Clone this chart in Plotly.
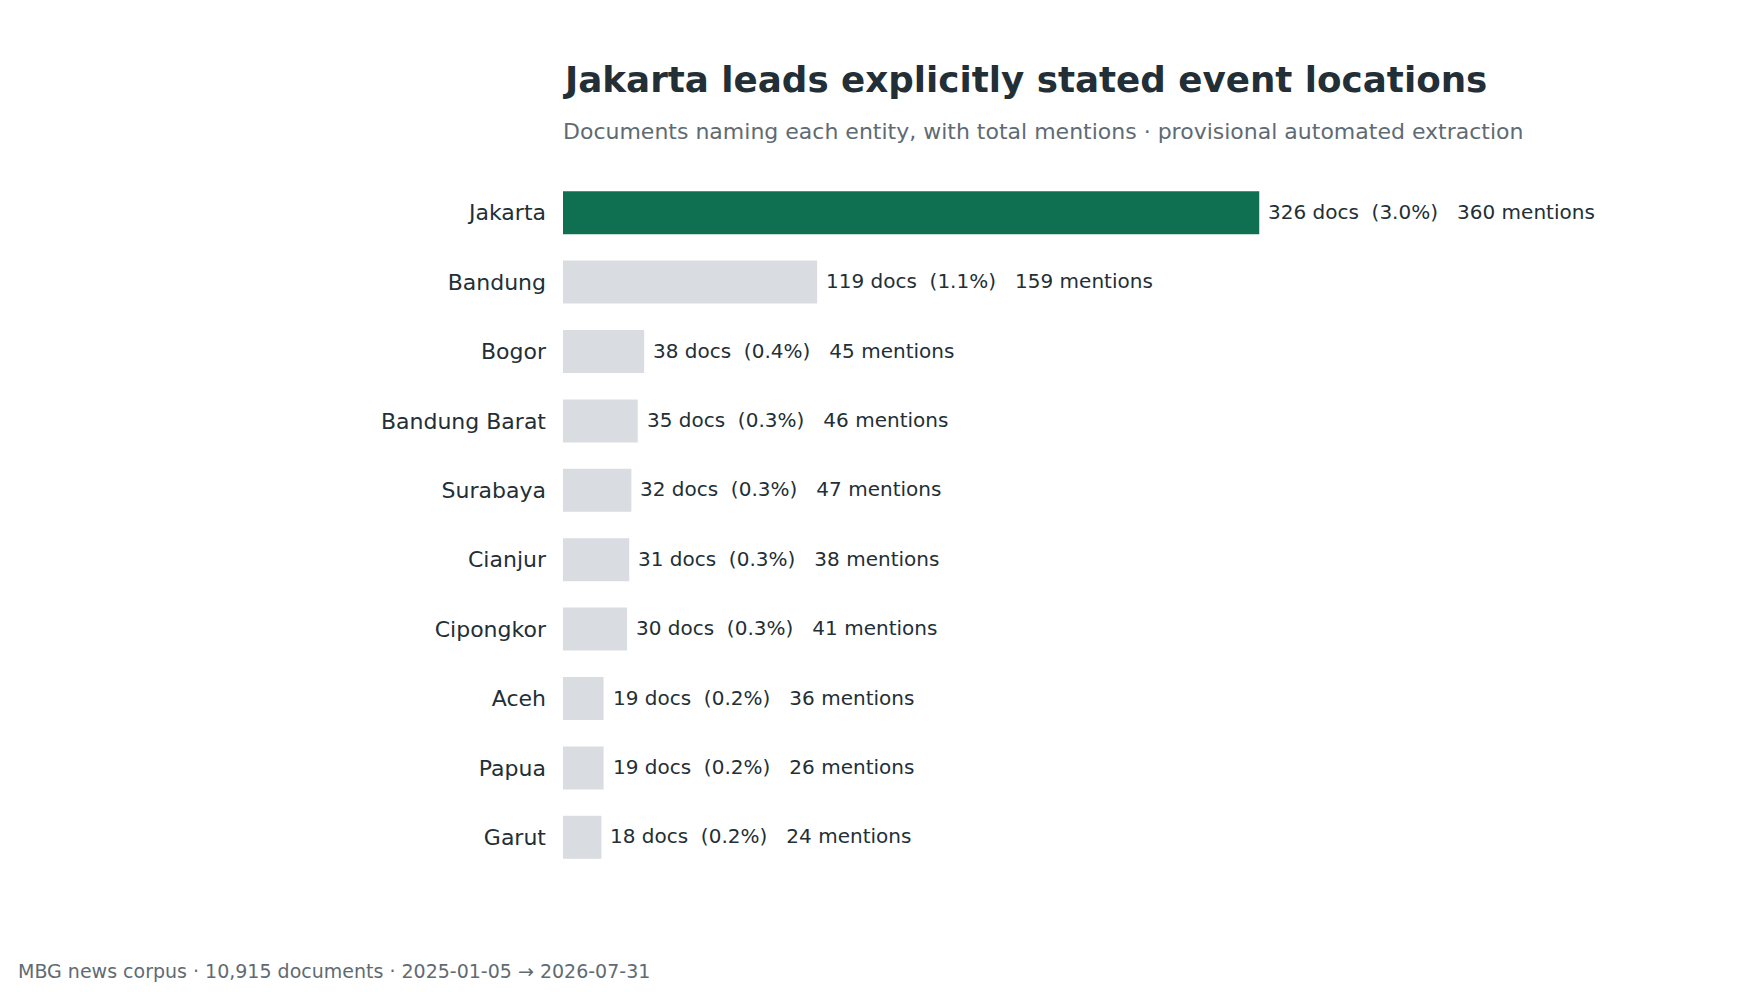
import plotly.graph_objects as go

places = ["Jakarta", "Bandung", "Bogor", "Bandung Barat", "Surabaya", "Cianjur",
          "Cipongkor", "Aceh", "Papua", "Garut"]
docs = [326, 119, 38, 35, 32, 31, 30, 19, 19, 18]
pcts = ["3.0%", "1.1%", "0.4%", "0.3%", "0.3%", "0.3%", "0.3%", "0.2%", "0.2%", "0.2%"]
mentions = [360, 159, 45, 46, 47, 38, 41, 36, 26, 24]

TITLE = "Jakarta leads explicitly stated event locations"
SUBTITLE = "Documents naming each entity, with total mentions · provisional automated extraction"
FOOTER = "MBG news corpus · 10,915 documents · 2025-01-05 → 2026-07-31"

GREEN = "#0e7050"
GREY = "#d9dde1"
DARK = "#232f36"
MUTED = "#5f6b73"
FONT = "DejaVu Sans"

W, H = 1760, 992
ML, MR, MT, MB = 555, 91, 170, 128
plot_w = W - ML - MR
plot_h = H - MT - MB

def xpaper(px):
    return (px - ML) / plot_w

def ypaper(px):
    return (H - MB - px) / plot_h

colors = [GREEN if i == 0 else GREY for i in range(len(places))]
nb = "\u00a0"
labels = [f"{d}{nb}docs{nb}{nb}({p}){nb}{nb}{nb}{m}{nb}mentions" for d, p, m in zip(docs, pcts, mentions)]

fig = go.Figure()
fig.add_trace(go.Bar(
    x=docs, y=places, orientation="h",
    marker=dict(color=colors, line=dict(width=0)),
    width=0.62,
    hoverinfo="skip",
))

for d, p, lab in zip(docs, places, labels):
    fig.add_annotation(x=d, y=p, xref="x", yref="y", text=lab, showarrow=False,
                       xanchor="left", yanchor="middle", xshift=7, yshift=1,
                       font=dict(family=FONT, size=20, color=DARK))

fig.add_annotation(x=0, y=ypaper(72), xref="paper", yref="paper", text=f"<b>{TITLE}</b>",
                   showarrow=False, xanchor="left", yanchor="middle", xshift=-2,
                   font=dict(family=FONT, size=35.7, color=DARK))
fig.add_annotation(x=0, y=ypaper(123), xref="paper", yref="paper", text=SUBTITLE,
                   showarrow=False, xanchor="left", yanchor="middle", xshift=-2,
                   font=dict(family=FONT, size=22, color=MUTED))
fig.add_annotation(x=xpaper(10), y=ypaper(963), xref="paper", yref="paper", text=FOOTER,
                   showarrow=False, xanchor="left", yanchor="middle", xshift=-2,
                   font=dict(family=FONT, size=19, color=MUTED))

fig.update_layout(
    width=W, height=H,
    paper_bgcolor="white", plot_bgcolor="white",
    margin=dict(l=ML, r=MR, t=MT, b=MB),
    showlegend=False,
    xaxis=dict(range=[0, 326 * 1.6], visible=False, fixedrange=True),
    yaxis=dict(categoryorder="array", categoryarray=places, autorange="reversed",
               showgrid=False, zeroline=False, showline=False, ticks="",
               ticklabelstandoff=16,
               tickfont=dict(family=FONT, size=22, color=DARK)),
    font=dict(family=FONT),
)

fig.write_html("out.html")
